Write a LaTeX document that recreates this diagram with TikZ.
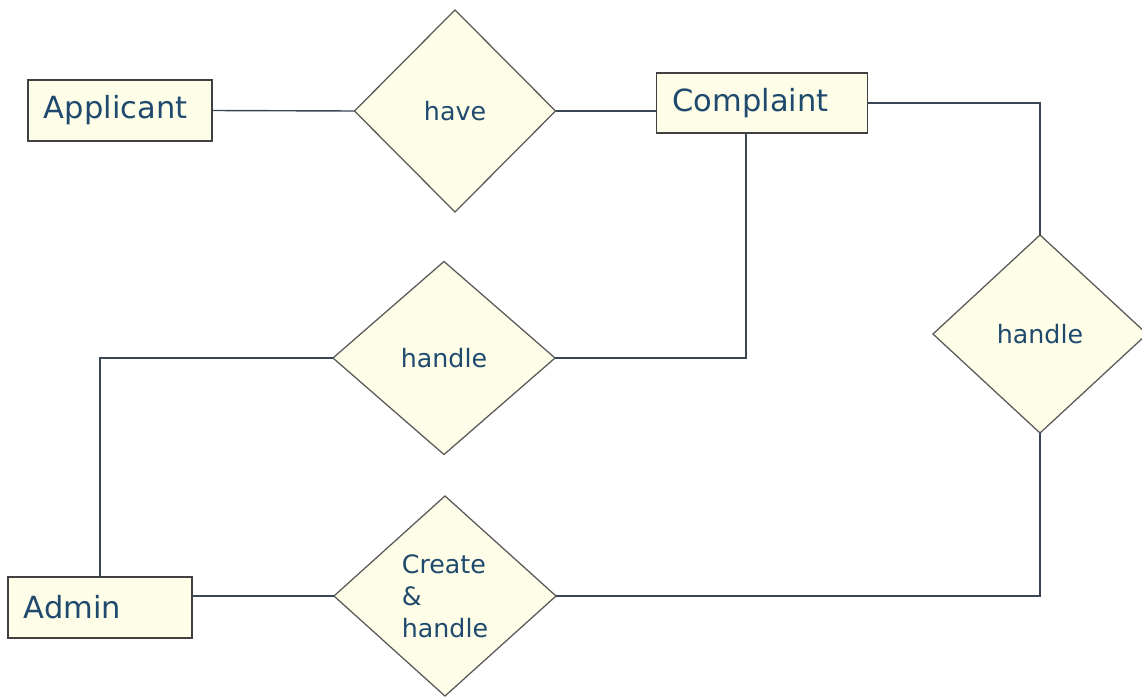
\documentclass[tikz,border=0pt]{standalone}
\usepackage{fontspec}
\setmainfont{DejaVu Sans}
\usepackage{tikz}
\usetikzlibrary{shapes.geometric}
\definecolor{erfill}{HTML}{FEFEE8}
\definecolor{ertext}{HTML}{1F4A6E}
\definecolor{erline}{HTML}{3A4656}
\tikzset{%
  entity/.style={
    rectangle,
    draw=black!75,
    line width=1.2pt,
    fill=erfill,
    text=ertext,
    font=\fontsize{21.7}{26}\selectfont,
    align=left,
    inner xsep=0.4cm,
    inner ysep=0pt,
    outer sep=0pt
  },
  relation/.style={
    diamond,
    draw=black!65,
    line width=0.9pt,
    fill=erfill,
    text=ertext,
    font=\fontsize{18}{22.8}\selectfont,
    align=left,
    inner sep=0pt,
    outer sep=0pt
  },
  link/.style={
    draw=erline,
    line width=1pt
  },
}

\begin{document}
\begin{tikzpicture}[x=0.025cm, y=-0.025cm]
\useasboundingbox (0,0) rectangle (1142,697);

% entities
\node [entity, text width=3.8cm, minimum height=1.525cm] (applicant) at (120,110.5) {Applicant};
\node [entity, text width=4.475cm, minimum height=1.5cm] (complaint) at (762,103) {Complaint};
\node [entity, text width=3.8cm, minimum height=1.525cm] (admin) at (100,607.5) {Admin};

% relationships
\node [relation, minimum width=5.025cm, minimum height=5.05cm] (have) at (455,111) {have};
\node [relation, minimum width=5.55cm, minimum height=4.825cm] (handle-mid) at (444,358) {handle};
\node [relation, minimum width=5.35cm, minimum height=4.95cm] (handle-right) at (1040,334) {handle};
\node [relation, minimum width=5.55cm, minimum height=5cm] (create) at (445,596) {Create\\\&\\handle};

% connectors
\draw [link] (applicant.east) -- (have.west);
\draw [link] (have.east) -- (have.east -| complaint.west);
\draw [link] ([xshift=-0.4cm]complaint.south) |- (handle-mid.east);
\draw [link] (handle-mid.west) -| (admin.north);
\draw [link] (complaint.east) -| (handle-right.north);
\draw [link] (handle-right.south) |- (create.east);
\draw [link] (create.west) -- (create.west -| admin.east);

\end{tikzpicture}
\end{document}
